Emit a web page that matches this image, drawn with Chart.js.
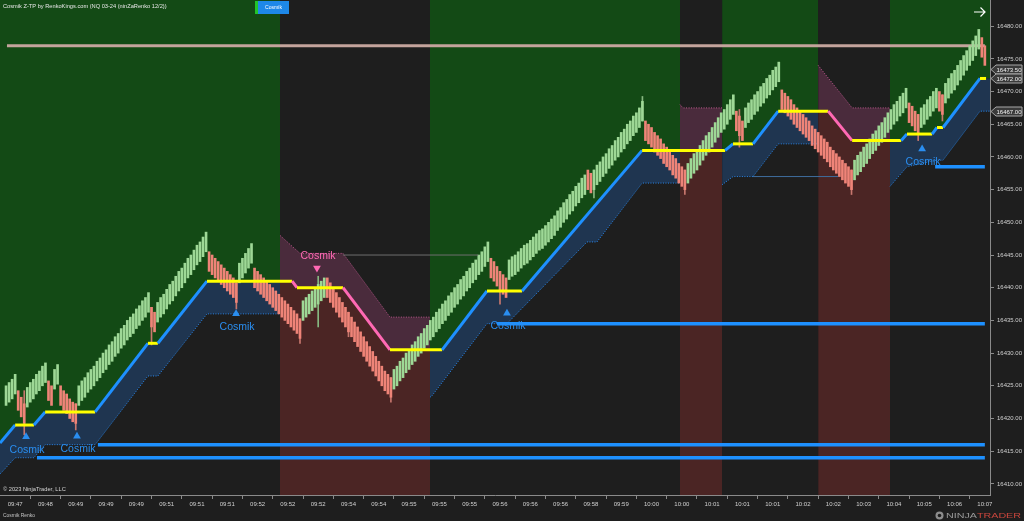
<!DOCTYPE html>
<html><head><meta charset="utf-8">
<script src="https://cdn.jsdelivr.net/npm/chart.js@4/dist/chart.umd.min.js"></script>
<style>html,body{margin:0;padding:0;background:#1e1e1e;overflow:hidden}canvas{display:block}</style>
</head><body>
<canvas id="c" width="1024" height="521"></canvas>
<script>
// ---------------- DATA ----------------
const closes = [
null,null,
16425,16425.5,16426,16426.75,
16421.25,16420.25,16419.25,
16424.75,16425.5,16426,16426.75,16427.25,16428,16428.5,
16422.75,16422,
16427.5,16428.25,
16422,16421.25,16420.75,16420,16419.5,16419.25,
16425,16425.75,16426.25,16427,16427.5,16428,16428.75,16429.25,16430,16430.5,16431.25,16431.75,16432.5,16433,16433.75,16434.25,16435,16435.5,16436,16436.75,16437.25,16438,16438.5,16439.25,
16434,16433.25,
16437.75,16438.5,16439,16439.75,16440.5,16441,16441.75,16442.5,16443,16443.75,16444.5,16445,16445.75,16446.5,16447,16447.75,16448.5,
16442.5,16442,16441.5,16441,16440.5,16440,16439.5,16439,16438.5,16437.75,
16443.75,16444.5,16445.25,16446,16446.75,
16440,16439.5,16439,16438.5,16438,16437.5,16437,16436.5,16436,16435.5,16435,16434.5,16434,16433.5,16433,16432.25,
16438,16438.5,16439,16439.5,16440,16440.5,16441,16441.5,
16438.5,16437.75,16437,16436.25,16435.5,16434.75,16434,16433.25,16432.5,16431.75,16431,16430.25,16429.5,16428.75,16428,16427.25,16426.5,16425.75,16425,16424.25,16423.75,16423.25,
16427.5,16428,16428.75,16429.25,16430,16430.5,16431.25,16431.75,16432.5,16433,16433.75,16434.25,16435,16435.5,16436.25,16436.75,16437.5,16438,16438.75,16439.25,16440,16440.5,16441.25,16441.75,16442.5,16443,16443.75,16444.25,16445,16445.5,16446.25,16447,
16441.5,16441,16440.25,16439.5,16439,16438.5,
16444.25,16444.75,16445,16445.5,16446,16446.5,16446.75,16447.25,16447.75,16448.25,16448.75,16449,16449.5,16450,16450.5,16451,16451.75,16452.25,16453,16453.5,16454.25,16454.75,16455.5,16456,16456.75,16457.25,
16455,16454.5,
16458,16458.75,16459.25,16460,16460.5,16461.25,16461.75,16462.5,16463,16463.75,16464.25,16465,16465.5,16466.25,16466.75,16467.5,16468.5,
16462.5,16462,16461.5,16460.75,16460.25,16459.75,16459,16458.5,16458,16457.25,16456.75,16456,16455.5,16455,
16459,16459.75,16460.5,16461,16461.75,16462.5,16463.25,16463.75,16464.5,16465.25,16466,16466.75,16467.25,16468,16468.75,16469.5,
16464,16463.25,16462.5,
16467.5,16468.25,16468.75,16469.5,16470,16470.75,16471.25,16472,16472.5,16473.25,16473.75,16474.5,
16467.25,16466.75,16466.25,16465.75,16465,16464.5,16464,16463.5,16463,16462.5,16461.75,16461.25,16460.75,16460.25,16459.75,16459.25,16458.5,16458,16457.5,16457,16456.5,16456,16455.5,16455,
16459.5,16460.25,16460.75,16461.5,16462,16462.75,16463.5,16464,16464.75,16465.25,16466,16466.75,16467.25,16468,16468.5,16469.25,16469.75,16470.5,
16465.25,16464.75,16464,16463.5,
16467.5,16468,16468.75,16469.25,16470,16470.5,
16467,16466.5,
16471.25,16472,16472.75,16473.25,16474,16474.75,16475.5,16476.25,16477,16477.75,16478.5,16479.5,
16475.25,16474
];
const brickSize = 3;
// visible wicks: bar index, low, high
const wickIdx  = [8,25,50,78,99,105,115,129,165,196,212,226,244,281,303,311];
const wickLow  = [16417.5,16418.25,16431.25,16436.75,16431.5,16434,16432.5,16422.5,16437.5,16453.75,16465.5,16454.25,16461.5,16454.25,16462.5,16465.5];
const wickHigh = [16424.25,16422.25,16437,16440.75,16435.25,16441.75,16436.25,16426.25,16442.5,16458,16469.25,16458,16467.25,16458,16466.5,16469.5];

// trail stop line [barIndex, price]
const trail = [[0,16416.25],[5,16419],[11.2,16419],[14.9,16421],[31.4,16421],[48.8,16431.5],[52.1,16431.5],[68.3,16441],[92.4,16441],[96.4,16441],[98,16440],[113.2,16440],[128.7,16430.5],[141.9,16430.5],[145.9,16430.5],[160.7,16439.5],[172.3,16439.5],[211.9,16461],[224.4,16461],[238.3,16461],[239.3,16461],[241.9,16462],[248.5,16462],[256.8,16467],[270,16467],[273.3,16467],[281.2,16462.5],[293.7,16462.5],[297.4,16462.5],[299.3,16463.5],[307.6,16463.5],[309.2,16464.5],[311.2,16464.5],[323.4,16472],[325.4,16472]];
const lowerBand = [[0,16411.5],[5,16414],[11.2,16414],[14.9,16416],[31.4,16416],[48.8,16426.5],[52.1,16426.5],[68.3,16436],[92.4,16436],
  [141.9,16423.25],[142.6,16423.5],[160.7,16434.5],[167.3,16434.5],[193.7,16447],[197,16447],[211.9,16456],[224.4,16456],
  [238.3,16455.75],[241.9,16457],[248.5,16457],[256.8,16462],[270,16462],
  [293.7,16455.5],[299.3,16458.5],[309.2,16459.5],[311.2,16459.5],[323.4,16467],[325.4,16467]];
const upperBand = [[92.4,16448],[99,16445.25],[113.2,16445.25],[128.7,16435.5],[141.9,16435.5],
  [224.4,16468],[225.4,16467.5],[238.3,16467.5],
  [270,16474],[281.2,16467.5],[293.7,16467.5]];
const zoneEdges = [0,92.4,141.9,224.4,238.3,270,293.7,326.7];
const zoneTrend = [1,-1,1,-1,1,-1,1];

// horizontal levels
const levelPrices = [16477,16434.5,16416,16414,16458.5];
const levelFrom   = [2.3,164,32.3,12.2,308.6];
const levelTo     = [325,325,325,325,325];
const thinPrices = [16445,16457];
const thinFrom   = [113.2,248.5];
const thinTo     = [157.8,276.6];

// signals
const signalX = [8.6,25.4,77.9,104.6,167.3,304.3];
const signalY = [16417.2,16417.3,16436,16443,16436.1,16461.2];
const signalDir = [1,1,1,-1,1,1];
const signalText = 'Cosmik';

const flagPrices = [16473.5,16472,16467];
const yTicks = [16410,16415,16420,16425,16430,16435,16440,16445,16450,16455,16460,16465,16470,16475,16480];
const xTickPos = [5,15,25,35,45,55,65,75,85,95,105,115,125,135,145,155,165,175,185,195,205,215,225,235,245,255,265,275,285,295,305,315,325];
const timeLabels = ['09:47','09:48','09:49','09:49','09:49','09:51','09:51','09:51','09:52','09:52','09:52','09:54','09:54','09:55','09:55','09:55','09:56','09:56','09:56','09:58','09:59','10:00','10:00','10:01','10:01','10:01','10:02','10:02','10:03','10:04','10:05','10:06','10:07'];

// ---------------- STYLE ----------------
const C = {green:'#134a15', navy:'#1f3550', maroon:'#4b2524', pinkBand:'#4a2b3c',
  blue:'#1e90ff', yellow:'#ffff00', pink:'#ff69b4', upBar:'#9ed896', dnBar:'#ef8478',
  tan:'#c4a49c', axis:'#8a8a8a', tick:'#d0d0d0'};
const FONT = '"Liberation Sans", Arial, sans-serif';
Chart.defaults.font.family = FONT;

// ---------------- BUILD ----------------
const toXY = a => a.map(p => ({x:p[0], y:p[1]}));
function inZone(list, a, b) {
  const r = list.filter(p => p[0] >= a - 1e-6 && p[0] <= b + 1e-6).map(p => [p[0], p[1]]);
  if (r.length && r[0][0] > a) r.unshift([a, r[0][1]]);
  if (r.length && r[r.length-1][0] < b) r.push([b, r[r.length-1][1]]);
  return r;
}
const datasets = [];
for (let z = 0; z < zoneTrend.length; z++) {
  const a = zoneEdges[z], b = zoneEdges[z+1], up = zoneTrend[z] > 0;
  const tIdx = datasets.length;
  datasets.push({type:'line', data: toXY(inZone(trail, a, b)), borderWidth:0, pointRadius:0,
    fill: up ? 'end' : 'start', backgroundColor: up ? C.green : C.maroon, order:100});
  datasets.push({type:'line', data: toXY(inZone(up ? lowerBand : upperBand, a, b)), borderWidth:1,
    borderDash:[1,1.5], borderColor: up ? '#2a86e8' : '#c05a90', pointRadius:0,
    fill: tIdx, backgroundColor: up ? C.navy : C.pinkBand, order:95});
}
datasets.push({type:'line', data:[{x:levelFrom[0],y:levelPrices[0]},{x:levelTo[0],y:levelPrices[0]}],
  borderColor:C.tan, borderWidth:3, pointRadius:0, order:90});
const bars = [], barColors = [];
closes.forEach((c, i) => {
  if (c == null) return;
  const prev = i > 0 ? closes[i-1] : null;
  const up = prev == null || c > prev;
  bars.push({x:i, y: up ? [c - brickSize, c] : [c, c + brickSize]});
  barColors.push(up ? C.upBar : C.dnBar);
});
const wickColors = wickIdx.map(i => (closes[i-1] != null && closes[i] < closes[i-1]) ? '#c8776e' : '#86b880');
datasets.push({type:'bar', data: wickIdx.map((i,k)=>({x:i, y:[wickLow[k], wickHigh[k]]})),
  backgroundColor: wickColors, barThickness:1, grouped:false, order:55});
datasets.push({type:'bar', data:bars, backgroundColor:barColors, barThickness:2, grouped:false, order:50});
thinPrices.forEach((p, k) => datasets.push({type:'line', data:[{x:thinFrom[k],y:p},{x:thinTo[k],y:p}],
  borderColor: k === 0 ? '#6e6e6e' : '#3f6e9e', borderWidth:1, pointRadius:0, order:45}));
datasets.push({type:'line', data: toXY(trail), borderWidth:3, pointRadius:0, order:40,
  borderColor:C.yellow,
  segment:{borderColor: s => s.p1.parsed.y > s.p0.parsed.y ? C.blue : (s.p1.parsed.y < s.p0.parsed.y ? C.pink : C.yellow)}});
for (let k = 1; k < levelPrices.length; k++) {
  datasets.push({type:'line', data:[{x:levelFrom[k],y:levelPrices[k]},{x:levelTo[k],y:levelPrices[k]}],
    borderColor:C.blue, borderWidth:3.5, pointRadius:0, order:30});
}
datasets.push({type:'line', showLine:false, data: signalX.map((x,k)=>({x, y:signalY[k]})),
  pointStyle:'triangle', pointRadius:4.5, pointBorderWidth:0, pointHoverRadius:4.5,
  pointRotation: signalDir.map(d => d > 0 ? 0 : 180),
  pointBackgroundColor: signalDir.map(d => d > 0 ? '#2a8ef0' : C.pink), order:10});

function fitText(ctx, txt, x, y, w, maxSize, weight) {
  let s = maxSize;
  ctx.font = (weight||'') + ' ' + s + 'px ' + FONT;
  const m = ctx.measureText(txt).width;
  s = Math.min(maxSize, maxSize * w / m);
  ctx.font = (weight||'') + ' ' + s + 'px ' + FONT;
  ctx.fillText(txt, x, y);
}

const overlay = {
  id:'overlay',
  afterDraw(chart) {
    const ctx = chart.ctx, xs = chart.scales.x, ys = chart.scales.y;
    ctx.save();
    ctx.textAlign = 'center'; ctx.textBaseline = 'middle';
    ctx.font = '10.5px ' + FONT;
    signalX.forEach((sx, k) => {
      const px = xs.getPixelForValue(sx), py = ys.getPixelForValue(signalY[k]);
      ctx.fillStyle = signalDir[k] > 0 ? '#2a8ef0' : C.pink;
      ctx.fillText(signalText, px + 1, py + (signalDir[k] > 0 ? 13 : -12));
    });
    ctx.textAlign = 'left';
    ctx.fillStyle = '#e6e6e6';
    fitText(ctx, 'Cosmik Z-TP by RenkoKings.com (NQ 03-24 (ninZaRenko 12/2))', 3, 6.5, 164, 7);
    ctx.fillStyle = '#22c42a'; ctx.fillRect(255, 1, 3, 13);
    ctx.fillStyle = '#1e88e8'; ctx.fillRect(258, 1, 31, 13);
    ctx.fillStyle = '#ffffff'; ctx.textAlign = 'center';
    fitText(ctx, 'Cosmik', 273.5, 7.5, 17, 6);
    ctx.strokeStyle = '#ffffff'; ctx.lineWidth = 1.2;
    ctx.beginPath(); ctx.moveTo(974, 12); ctx.lineTo(985, 12);
    ctx.moveTo(980.5, 7.5); ctx.lineTo(985, 12); ctx.lineTo(980.5, 16.5); ctx.stroke();
    ctx.textAlign = 'left'; ctx.fillStyle = '#d6d6d6';
    fitText(ctx, '\u00a9 2023 NinjaTrader, LLC', 3, 489, 63, 7);
    ctx.fillStyle = '#c4c4c4';
    fitText(ctx, 'Cosmik Renko', 3, 516, 32, 6);
    ctx.fillStyle = '#8c8c8c';
    ctx.beginPath(); ctx.arc(939.5, 515.5, 4, 0, Math.PI*2); ctx.fill();
    ctx.fillStyle = '#1e1e1e';
    ctx.beginPath(); ctx.arc(939.5, 515.5, 1.8, 0, Math.PI*2); ctx.fill();
    ctx.font = '8px ' + FONT;
    const w1 = ctx.measureText('NINJA').width, w2 = ctx.measureText('TRADER').width;
    const sc = 75 / (w1 + w2);
    ctx.save(); ctx.translate(946, 516); ctx.scale(sc, 1);
    ctx.fillStyle = '#9a9a9a'; ctx.fillText('NINJA', 0, 0);
    ctx.fillStyle = '#c9463d'; ctx.fillText('TRADER', w1, 0);
    ctx.restore();
    ctx.textAlign = 'center';
    flagPrices.forEach(p => {
      const py = Math.round(ys.getPixelForValue(p)) + 0.5;
      ctx.beginPath();
      ctx.moveTo(991, py); ctx.lineTo(996, py - 4.5); ctx.lineTo(1022, py - 4.5);
      ctx.lineTo(1022, py + 4.5); ctx.lineTo(996, py + 4.5); ctx.closePath();
      ctx.fillStyle = '#3a3a3a'; ctx.fill();
      ctx.strokeStyle = '#a8a8a8'; ctx.lineWidth = 1; ctx.stroke();
      ctx.fillStyle = '#f2f2f2';
      ctx.font = '6px ' + FONT;
      ctx.fillText(p.toFixed(2), 1009, py + 0.5);
    });
    ctx.restore();
  }
};

new Chart(document.getElementById('c'), {
  data:{datasets},
  options:{
    responsive:false, animation:false, devicePixelRatio:1,
    layout:{padding:0, autoPadding:false},
    plugins:{legend:{display:false}, tooltip:{enabled:false}, filler:{drawTime:'beforeDatasetsDraw', propagate:false}},
    scales:{
      x:{type:'linear', position:'bottom', min:0, max:326.7, offset:false,
        afterFit: s => { s.height = 26; s.paddingLeft = 0; s.paddingRight = 0; },
        afterBuildTicks: s => { s.ticks = xTickPos.map(v => ({value:v})); },
        ticks:{callback:(v,i)=>timeLabels[i], color:C.tick, font:{size:6}, maxRotation:0, autoSkip:false, padding:2},
        grid:{drawOnChartArea:false, drawTicks:true, tickLength:4, color:C.axis},
        border:{display:true, color:C.axis}},
      y:{type:'linear', position:'right', min:16408.3, max:16484.0,
        afterFit: s => { s.width = 34; s.paddingTop = 0; s.paddingBottom = 0; },
        afterBuildTicks: s => { s.ticks = yTicks.map(v => ({value:v})); },
        ticks:{callback:v=>Number(v).toFixed(2), color:C.tick, font:{size:6}, padding:3},
        grid:{drawOnChartArea:false, drawTicks:true, tickLength:4, color:C.axis},
        border:{display:true, color:C.axis}}
    }
  },
  plugins:[overlay]
});
</script>
</body></html>
